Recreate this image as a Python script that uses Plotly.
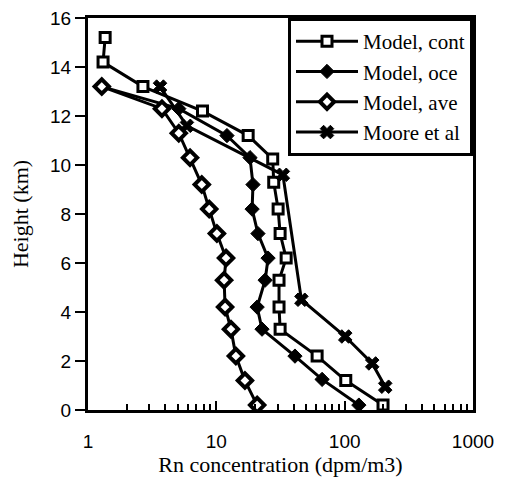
import plotly.graph_objects as go

# Heights (km) of the model levels and observations
h_cont = [15.2, 14.2, 13.2, 12.2, 11.2, 10.25, 9.3, 8.2, 7.2, 6.2, 5.3, 4.2, 3.3, 2.2, 1.2, 0.2]
x_cont = [1.36, 1.31, 2.68, 7.8, 17.7, 27.5, 28.0, 30.3, 31.4, 35.0, 30.8, 30.8, 31.4, 61, 102, 199]

h_oce = [13.2, 12.3, 11.2, 10.3, 9.2, 8.2, 7.2, 6.2, 5.3, 4.2, 3.3, 2.2, 1.25, 0.2]
x_oce = [1.28, 5.1, 12.1, 18.3, 19.3, 19.0, 21.1, 25.3, 24.0, 20.8, 22.7, 41, 66.7, 129]

h_ave = [13.2, 12.3, 11.3, 10.3, 9.2, 8.2, 7.2, 6.2, 5.3, 4.2, 3.3, 2.2, 1.2, 0.2]
x_ave = [1.28, 3.77, 5.1, 6.24, 7.7, 8.8, 10.1, 11.9, 11.5, 11.7, 13.0, 14.2, 16.7, 20.8]

h_moore = [13.2, 11.6, 9.6, 4.5, 3.0, 1.9, 0.95]
x_moore = [3.64, 5.9, 33, 46, 101, 164, 207]

series_names = ["Model, cont", "Model, oce", "Model, ave", "Moore et al"]

x_tickvals = [1, 10, 100, 1000]
x_ticktext = ["1", "10", "100", "1000"]
x_minor = [2, 3, 4, 5, 6, 7, 8, 9, 20, 30, 40, 50, 60, 70, 80, 90,
           200, 300, 400, 500, 600, 700, 800, 900]
y_tickvals = [0, 2, 4, 6, 8, 10, 12, 14, 16]

serif = "Liberation Serif"
sans = "Liberation Sans"

fig = go.Figure()
line = dict(color="black", width=3)
fig.add_trace(go.Scatter(x=x_cont, y=h_cont, name=series_names[0], mode="lines+markers",
                         line=line,
                         marker=dict(symbol="square", size=10, color="white",
                                     line=dict(color="black", width=3))))
fig.add_trace(go.Scatter(x=x_oce, y=h_oce, name=series_names[1], mode="lines+markers",
                         line=line,
                         marker=dict(symbol="diamond", size=11, color="black",
                                     line=dict(color="black", width=1))))
fig.add_trace(go.Scatter(x=x_ave, y=h_ave, name=series_names[2], mode="lines+markers",
                         line=line,
                         marker=dict(symbol="diamond", size=11, color="white",
                                     line=dict(color="black", width=4))))
fig.add_trace(go.Scatter(x=x_moore, y=h_moore, name=series_names[3], mode="lines+markers",
                         line=line,
                         marker=dict(symbol="x", size=12, color="black",
                                     line=dict(color="black", width=1))))

fig.update_layout(
    width=500, height=475,
    margin=dict(l=80, r=35, t=10, b=73, autoexpand=False),
    paper_bgcolor="white", plot_bgcolor="white",
    showlegend=True,
    legend=dict(x=1, y=1, xanchor="right", yanchor="top",
                bgcolor="white", bordercolor="black", borderwidth=3,
                font=dict(family=serif, size=21, color="black"),
                itemwidth=62, tracegroupgap=0),
)
fig.update_xaxes(
    type="log", range=[0, 3], automargin=False,
    tickvals=x_tickvals, ticktext=x_ticktext,
    ticks="inside", ticklen=9, tickwidth=2, tickcolor="black",
    minor=dict(tickvals=x_minor, ticks="inside", ticklen=6, tickwidth=2, tickcolor="black", showgrid=False),
    showline=True, linewidth=3, linecolor="black", mirror=True,
    showgrid=False, zeroline=False, ticklabelstandoff=12, ticklabeloverflow="allow",
    tickfont=dict(family=sans, size=19, color="black"),
    title=dict(text="Rn concentration (dpm/m3)", font=dict(family=serif, size=22, color="black"), standoff=2),
)
fig.update_yaxes(
    range=[0, 16], tickvals=y_tickvals, automargin=False,
    ticks="outside", ticklen=10, tickwidth=2, tickcolor="black",
    showline=True, linewidth=3, linecolor="black", mirror=True,
    showgrid=False, zeroline=False, ticklabeloverflow="allow",
    tickfont=dict(family=sans, size=19, color="black"),
    title=dict(text="Height (km)", font=dict(family=serif, size=22, color="black"), standoff=16),
)

fig.write_html("out.html")
